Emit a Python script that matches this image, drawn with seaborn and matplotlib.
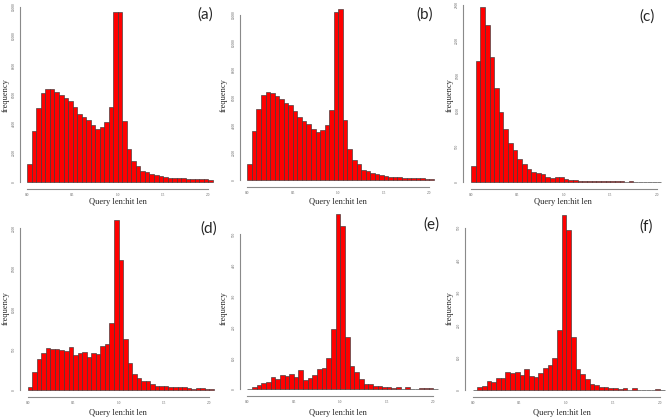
import numpy as np
import pandas as pd
import matplotlib
matplotlib.use("Agg")
import matplotlib.pyplot as plt
import seaborn as sbn

# bin edges: 0.05 wide, 0.0 .. 2.05
bin_width = 0.05
n_bins = 41
edges = np.round(np.arange(n_bins + 1) * bin_width, 3)
centers = edges[:-1] + bin_width / 2

# counts, one list per panel
counts_a = [1190, 3500, 5030, 6080, 6330, 6350, 6150, 5940, 5715, 5555, 5100,
            4640, 4410, 4230, 3890, 3610, 3730, 4070, 5100, 11610, 11660, 4180,
            2240, 1440, 1100, 730, 640, 550, 457, 390, 340, 275, 250, 230, 230,
            180, 160, 160, 180, 160, 90]
counts_b = [1180, 3570, 5140, 6180, 6420, 6350, 6130, 5870, 5620, 5455, 5020,
            4560, 4300, 4080, 3740, 3480, 3620, 3980, 5120, 12170, 12410, 4370,
            2290, 1450, 1160, 750, 680, 530, 460, 390, 310, 265, 220, 220, 190,
            145, 145, 145, 170, 120, 100]
counts_c = [217, 1705, 2463, 2218, 1757, 1319, 980, 740, 542, 447, 316, 245,
            179, 132, 118, 104, 71, 52, 61, 61, 38, 24, 19, 14, 12, 9, 6, 5, 4,
            4, 3, 3, 3, 2, 3, 2, 2, 2, 2, 2, 1]
counts_d = [33, 227, 388, 462, 520, 503, 503, 499, 482, 532, 429, 462, 470, 412,
            454, 445, 548, 565, 833, 2107, 1608, 627, 334, 198, 148, 115, 111,
            78, 49, 49, 45, 37, 37, 33, 33, 29, 16, 29, 25, 16, 12]
counts_e = [1, 6, 12, 20, 22, 39, 32, 44, 42, 48, 38, 60, 30, 37, 45, 65, 68,
            101, 192, 564, 527, 168, 74, 54, 31, 17, 15, 10, 9, 6, 8, 4, 6, 1,
            6, 1, 1, 2, 3, 2, 1]
counts_f = [0, 8, 12, 29, 26, 38, 37, 54, 53, 54, 47, 64, 42, 39, 52, 69, 76,
            99, 185, 539, 493, 162, 66, 48, 35, 18, 14, 9, 9, 7, 7, 4, 7, 1, 5,
            1, 1, 1, 0, 3, 1]

panel_labels = ["(a)", "(b)", "(c)", "(d)", "(e)", "(f)"]
panel_counts = [counts_a, counts_b, counts_c, counts_d, counts_e, counts_f]
x_ticks = [0.0, 0.5, 1.0, 1.5, 2.0]
x_tick_labels = ["0.0", "0.5", "1.0", "1.5", "2.0"]
y_steps = [2000, 2000, 500, 500, 100, 100]
y_tops = [12000, 12000, 2500, 2000, 500, 500]

# pixel anchors (x of 0.0, x of 2.0, y of 0, y of top tick) per panel
anchors = [(27.3, 208.3, 181.7, 6.7), (247.3, 429.3, 180.3, 14.7),
           (471.0, 656.7, 181.7, 4.7), (27.7, 209.3, 390.0, 228.3),
           (247.3, 433.3, 389.0, 234.0), (472.7, 660.0, 390.0, 227.7)]
letter_pos = [(205, 15), (425, 15), (647, 17), (209, 229), (431, 225), (646, 227)]
ylab_pos = [(6, 95), (224, 95), (450, 95), (6, 308), (224, 308), (450, 308)]
xlab_pos = [(118, 202), (338, 202), (563, 202), (118, 413), (338, 413), (562, 413)]

W, H = 669, 419
sbn.set_style("white")
plt.rcParams["font.family"] = ["Liberation Serif", "DejaVu Serif"]
fig = plt.figure(figsize=(W / 100, H / 100), dpi=100)

xlim = (-0.082, 2.132)
axis_col = "#8a8a8a"

for i in range(6):
    cnt = panel_counts[i]
    ymax = max(cnt)
    ylim = (-0.04 * ymax, 1.04 * ymax)
    x0, x2, y0, yt = anchors[i]
    sx = (x2 - x0) / 2.0
    sy = (y0 - yt) / y_tops[i]
    left = x0 + xlim[0] * sx
    width = (xlim[1] - xlim[0]) * sx
    pb = y0 - ylim[0] * sy
    pt = y0 - ylim[1] * sy
    ax = fig.add_axes([left / W, 1 - pb / H, width / W, (pb - pt) / H])

    df = pd.DataFrame({"ratio": centers, "n": cnt})
    sbn.histplot(data=df, x="ratio", weights="n", bins=list(edges),
                 color="#ff0000", edgecolor="#3a3a3a", linewidth=0.45,
                 alpha=1, ax=ax)
    ax.set_xlim(xlim)
    ax.set_ylim(ylim)
    ax.set_xlabel("")
    ax.set_ylabel("")
    ax.set_xticks(x_ticks)
    ax.set_xticklabels(x_tick_labels)
    yticks = np.arange(0, y_tops[i] + 1, y_steps[i])
    ax.set_yticks(yticks)
    ax.set_yticklabels([str(v) for v in yticks], rotation=90, va="center")
    ax.tick_params(axis="both", length=1.5, width=0.5, color=axis_col,
                   labelsize=2.5, pad=1.5, labelcolor="#555555")
    for s in ["top", "right"]:
        ax.spines[s].set_visible(False)
    ax.spines["left"].set_bounds(0, y_tops[i])
    ax.spines["bottom"].set_bounds(0, 2.0)
    for s in ["left", "bottom"]:
        ax.spines[s].set_color(axis_col)
        ax.spines[s].set_linewidth(0.8)

    lx, ly = letter_pos[i]
    fig.text(lx / W, 1 - ly / H, panel_labels[i], ha="center", va="center",
             fontsize=11, family=["Lato", "DejaVu Sans"])
    yx, yy = ylab_pos[i]
    fig.text(yx / W, 1 - yy / H, "frequency", rotation=90, ha="center",
             va="center", fontsize=6)
    xx, xy = xlab_pos[i]
    fig.text(xx / W, 1 - xy / H, "Query len:hit len", ha="center",
             va="center", fontsize=6)

fig.savefig("out.png", dpi=100)
